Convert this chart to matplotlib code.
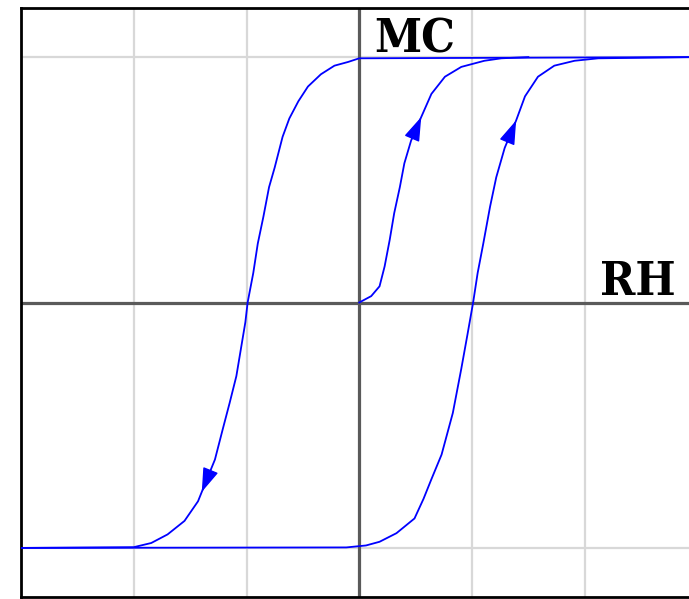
import numpy as np
import matplotlib
matplotlib.use("Agg")
import matplotlib.pyplot as plt

# Descending branch (right to left)
desc_x = [3.0, 0.0, -0.10, -0.22, -0.34, -0.455, -0.54, -0.62, -0.68, -0.75, -0.80,
          -0.85, -0.90, -0.94, -0.99, -1.01, -1.05, -1.09, -1.15, -1.21, -1.28, -1.36,
          -1.43, -1.55, -1.70, -1.845, -2.0, -3.0]
desc_y = [1.0, 0.995, 0.98, 0.965, 0.93, 0.88, 0.82, 0.75, 0.675, 0.55, 0.47,
          0.35, 0.24, 0.12, 0.0, -0.08, -0.19, -0.30, -0.41, -0.515, -0.64, -0.73,
          -0.81, -0.89, -0.945, -0.98, -0.997, -1.0]

# Ascending branch (left to right)
asc_x = [-3.0, -0.115, 0.06, 0.18, 0.33, 0.49, 0.57, 0.64, 0.73, 0.83, 0.905, 0.96,
         1.01, 1.05, 1.10, 1.16, 1.215, 1.29, 1.39, 1.47, 1.585, 1.73, 1.91, 2.12, 3.0]
asc_y = [-1.0, -0.998, -0.99, -0.975, -0.94, -0.88, -0.80, -0.72, -0.62, -0.45, -0.27, -0.13,
         0.0, 0.12, 0.24, 0.39, 0.51, 0.63, 0.74, 0.84, 0.92, 0.965, 0.985, 0.995, 1.0]

# Initial magnetization curve
virgin_x = [0.0, 0.106, 0.18, 0.225, 0.27, 0.31, 0.36, 0.40, 0.46, 0.55, 0.64, 0.76,
            0.905, 1.11, 1.26, 1.5]
virgin_y = [0.0, 0.026, 0.066, 0.147, 0.255, 0.364, 0.47, 0.567, 0.66, 0.756, 0.85, 0.92,
            0.96, 0.985, 0.995, 1.0]

# Arrow tip heights on each curve
arrow_virgin_y = 0.756
arrow_asc_y = 0.742
arrow_desc_y = -0.772

axis_labels = ["RH", "MC"]

W, H = 689, 599
fig = plt.figure(figsize=(W / 100, H / 100), dpi=100)
ax = fig.add_axes([21 / W, 2 / H, 676.5 / W, 589 / H])
ax.set_xlim(-3, 3)
ax.set_ylim(-1.2, 1.2)
ax.set_xticks([])
ax.set_yticks([])

for gx in [-2, -1, 1, 2]:
    ax.axvline(gx, color="#d8d8d8", lw=1.6, zorder=1)
for gy in [-1, 1]:
    ax.axhline(gy, color="#d8d8d8", lw=1.6, zorder=1)
ax.axvline(0, color="#5a5a5a", lw=2.3, zorder=2)
ax.axhline(0, color="#5a5a5a", lw=2.3, zorder=2)

for s in ["left", "top", "bottom"]:
    ax.spines[s].set_color("black")
    ax.spines[s].set_linewidth(2)
ax.spines["right"].set_visible(False)

blue = "#0000ff"
ax.plot(desc_x, desc_y, color=blue, lw=1.3, zorder=3)
ax.plot(asc_x, asc_y, color=blue, lw=1.3, zorder=3)
ax.plot(virgin_x, virgin_y, color=blue, lw=1.3, zorder=3)


def arrow_on(xs, ys, ytip, back):
    xs = np.asarray(xs); ys = np.asarray(ys)
    order = np.argsort(ys)
    xt = np.interp(ytip, ys[order], xs[order])
    yb = ytip - back
    xb = np.interp(yb, ys[order], xs[order])
    ax.annotate("", xy=(xt, ytip), xytext=(xb, yb),
                arrowprops=dict(arrowstyle="-|>,head_length=1.5,head_width=0.5",
                                color=blue, lw=1.0, shrinkA=0, shrinkB=0,
                                mutation_scale=10),
                zorder=4)


arrow_on(virgin_x, virgin_y, arrow_virgin_y, 0.09)
arrow_on(asc_x[1:-1], asc_y[1:-1], arrow_asc_y, 0.09)
arrow_on(desc_x[1:-1], desc_y[1:-1], arrow_desc_y, -0.09)

font = dict(family=["DejaVu Serif", "Liberation Serif"], weight="bold", size=34,
            stretch="condensed", color="black")
ax.text(2.135, 0.032, axis_labels[0], ha="left", va="baseline", **font)
ax.text(0.133, 1.018, axis_labels[1], ha="left", va="baseline", **font)

fig.savefig("out.png", dpi=100)
